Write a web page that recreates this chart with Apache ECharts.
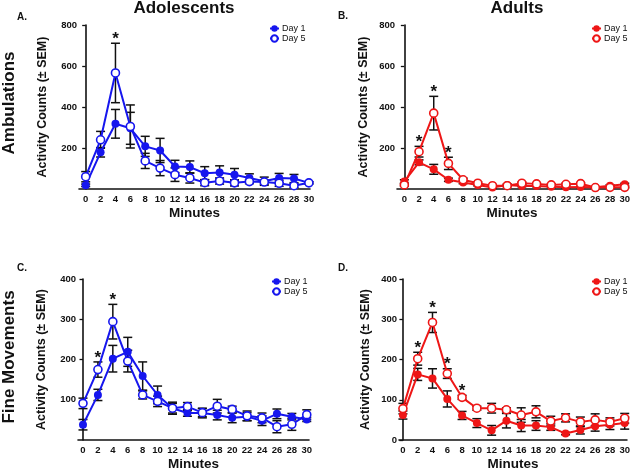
<!DOCTYPE html>
<html><head><meta charset="utf-8">
<script src="https://cdn.jsdelivr.net/npm/echarts@6/dist/echarts.min.js"></script>
<style>html,body{margin:0;padding:0;background:#fff}#c{width:633px;height:472px}</style>
</head><body><div id="c"></div>
<script>
// ---------- data ----------
const minutes = [0,2,4,6,8,10,12,14,16,18,20,22,24,26,28,30];
const xTickLabels = ['0','2','4','6','8','10','12','14','16','18','20','22','24','26','28','30'];
const seriesNames = ['Day 1','Day 5'];
const panelTitles = ['Adolescents','Adults'];
const rowTitles = ['Ambulations','Fine Movements'];
const panelLetters = ['A.','B.','C.','D.'];

// A. Adolescents – Ambulations
const adoAmbDay1 = [18,179,318,296,208,188,110,107,77,80,70,54,38,54,51,30];
const adoAmbDay1Err = [6,23,70,78,49,59,30,30,32,33,30,20,20,22,20,5];
const adoAmbDay5 = [60,240,566,305,137,102,70,54,31,39,30,36,34,28,16,30];
const adoAmbDay5Err = [25,41,145,105,37,37,33,25,15,15,15,10,10,15,10,5];
const adoAmbSig = [4];

// B. Adults – Ambulations
const adAmbDay1 = [37,130,96,45,32,20,7,20,15,15,11,8,10,8,16,23];
const adAmbDay1Err = [8,12,24,8,6,5,4,5,4,4,4,3,3,3,5,5];
const adAmbDay5 = [20,182,370,125,45,28,16,16,28,25,20,23,26,7,8,8];
const adAmbDay5Err = [6,26,82,30,8,6,5,5,5,5,5,5,5,3,3,3];
const adAmbSig = [2,4,6];

// C. Adolescents – Fine Movements
const adoFineDay1 = [38,112,202,219,159,112,79,67,67,62,55,58,48,65,58,51];
const adoFineDay1Err = [13,14,33,36,35,22,15,8,12,12,12,10,12,12,8,5];
const adoFineDay5 = [91,175,294,196,112,96,79,83,68,84,76,60,55,33,39,63];
const adoFineDay5Err = [13,19,43,27,10,13,12,10,10,17,8,12,12,15,15,12];
const adoFineSig = [2,4];

// D. Adults – Fine Movements
const adFineDay1 = [62,163,153,102,61,42,24,48,36,36,32,16,25,34,38,42];
const adFineDay1Err = [10,15,24,20,10,11,12,18,15,12,8,3,10,12,12,15];
const adFineDay5 = [78,202,292,165,106,79,79,75,62,70,47,55,45,50,45,54];
const adFineDay5Err = [13,16,25,12,5,5,12,5,18,15,12,10,12,15,10,12];
const adFineSig = [2,4,6,8];

// ---------- layout / style ----------
const FONT = '"Liberation Sans", Arial, Helvetica, sans-serif';
const BLUE = '#1616ee';
const RED = '#ee1616';

const panels = [
  {id:'A', d1:adoAmbDay1, e1:adoAmbDay1Err, d5:adoAmbDay5, e5:adoAmbDay5Err, sig:adoAmbSig, color:BLUE,
   grid:{left:79, top:25, width:231, height:164}, xmin:-0.9, xmax:30.15, ymax:800, yint:200, showZero:false,
   legend:{left:269, top:24}, nameGap:30},
  {id:'B', d1:adAmbDay1, e1:adAmbDay1Err, d5:adAmbDay5, e5:adAmbDay5Err, sig:adAmbSig, color:RED,
   grid:{left:397, top:25, width:232, height:164}, xmin:-1.0, xmax:30.3, ymax:800, yint:200, showZero:false,
   legend:{left:591, top:24}, nameGap:27},
  {id:'C', d1:adoFineDay1, e1:adoFineDay1Err, d5:adoFineDay5, e5:adoFineDay5Err, sig:adoFineSig, color:BLUE,
   grid:{left:78, top:279, width:231, height:163}, xmin:-0.67, xmax:30.3, ymax:400, yint:100, showZero:false,
   legend:{left:271, top:277}, nameGap:30},
  {id:'D', d1:adFineDay1, e1:adFineDay1Err, d5:adFineDay5, e5:adFineDay5Err, sig:adFineSig, color:RED,
   grid:{left:399, top:279, width:231, height:163}, xmin:-0.53, xmax:30.3, ymax:400, yint:100, showZero:true,
   legend:{left:591, top:277}, nameGap:27}
];

function errRender(params, api){
  const x = api.value(0), lo = api.value(1), hi = api.value(2);
  const p1 = api.coord([x, hi]), p2 = api.coord([x, lo]);
  const w = 4.5;
  const st = {stroke:'#111', lineWidth:1.5};
  return {type:'group', children:[
    {type:'line', shape:{x1:p1[0], y1:p1[1], x2:p2[0], y2:p2[1]}, style:st},
    {type:'line', shape:{x1:p1[0]-w, y1:p1[1], x2:p1[0]+w, y2:p1[1]}, style:st},
    {type:'line', shape:{x1:p2[0]-w, y1:p2[1], x2:p2[0]+w, y2:p2[1]}, style:st}
  ]};
}
function starRender(params, api){
  const p = api.coord([api.value(0), api.value(1)]);
  return {type:'text', x:p[0], y:p[1]-4,
    style:{text:'*', fill:'#111', font:'bold 17px ' + FONT, textAlign:'center', textVerticalAlign:'middle'}};
}

const grids = [], xAxes = [], yAxes = [], series = [], legends = [];
panels.forEach((P, k) => {
  grids.push(Object.assign({containLabel:false}, P.grid));
  xAxes.push({
    type:'value', gridIndex:k, min:P.xmin, max:P.xmax,
    axisLine:{show:true, onZero:false, lineStyle:{color:'#111', width:1.6}},
    axisTick:{show:false},
    splitLine:{show:false},
    axisLabel:{customValues:minutes, formatter:(v)=>xTickLabels[minutes.indexOf(v)] ?? String(v),
      color:'#111', fontFamily:FONT, fontWeight:'bold', fontSize:9.5, margin:5},
    name:'Minutes', nameLocation:'middle', nameGap:17,
    nameTextStyle:{color:'#111', fontFamily:FONT, fontWeight:'bold', fontSize:13.5}
  });
  yAxes.push({
    type:'value', gridIndex:k, min:0, max:P.ymax, interval:P.yint,
    axisLine:{show:true, lineStyle:{color:'#111', width:1.6}},
    axisTick:{show:true, length:3.5, lineStyle:{color:'#111', width:1.3}},
    splitLine:{show:false},
    axisLabel:{showMinLabel:P.showZero, color:'#111', fontFamily:FONT, fontWeight:'bold', fontSize:9.5, margin:2},
    name:'Activity Counts (± SEM)', nameLocation:'middle', nameGap:P.nameGap,
    nameTextStyle:{color:'#111', fontFamily:FONT, fontWeight:'bold', fontSize:12.5}
  });
  const n1 = P.id + '|' + seriesNames[0], n5 = P.id + '|' + seriesNames[1];
  const errData = (d, e) => minutes.map((m, i) => [m, Math.max(0, d[i]-e[i]), d[i]+e[i]]);
  series.push({type:'custom', xAxisIndex:k, yAxisIndex:k, renderItem:errRender, data:errData(P.d1, P.e1),
    encode:{x:0, y:[1,2]}, z:1, silent:true});
  series.push({type:'custom', xAxisIndex:k, yAxisIndex:k, renderItem:errRender, data:errData(P.d5, P.e5),
    encode:{x:0, y:[1,2]}, z:1, silent:true});
  series.push({type:'line', name:n1, xAxisIndex:k, yAxisIndex:k, data:minutes.map((m,i)=>[m, P.d1[i]]),
    symbol:'circle', symbolSize:8, itemStyle:{color:P.color}, lineStyle:{color:P.color, width:2}, z:3});
  series.push({type:'line', name:n5, xAxisIndex:k, yAxisIndex:k, data:minutes.map((m,i)=>[m, P.d5[i]]),
    symbol:'circle', symbolSize:8, itemStyle:{color:'#fff', borderColor:P.color, borderWidth:1.6},
    lineStyle:{color:P.color, width:2}, z:4});
  series.push({type:'custom', xAxisIndex:k, yAxisIndex:k, renderItem:starRender,
    data:P.sig.map(x => { const i = minutes.indexOf(x); return [x, P.d5[i] + P.e5[i]]; }),
    encode:{x:0, y:1}, z:5, silent:true});
  legends.push({data:[n1, n5], orient:'vertical', left:P.legend.left, top:P.legend.top,
    itemWidth:9, itemHeight:8, itemGap:1, padding:0,
    formatter:(name)=>name.split('|')[1],
    textStyle:{color:'#111', fontFamily:FONT, fontSize:9, padding:[0,0,0,-2]}});
});

const graphics = [
  {type:'text', x:184, y:8, style:{text:panelTitles[0], font:'bold 17px ' + FONT, fill:'#111', textAlign:'center', textVerticalAlign:'middle'}},
  {type:'text', x:517, y:8, style:{text:panelTitles[1], font:'bold 17px ' + FONT, fill:'#111', textAlign:'center', textVerticalAlign:'middle'}},
  {type:'text', x:9, y:103, rotation:Math.PI/2, style:{text:rowTitles[0], font:'bold 17px ' + FONT, fill:'#111', textAlign:'center', textVerticalAlign:'middle'}},
  {type:'text', x:9, y:357, rotation:Math.PI/2, style:{text:rowTitles[1], font:'bold 17px ' + FONT, fill:'#111', textAlign:'center', textVerticalAlign:'middle'}},
  {type:'text', x:17, y:17, style:{text:panelLetters[0], font:'bold 10px ' + FONT, fill:'#111', textVerticalAlign:'middle'}},
  {type:'text', x:338, y:16, style:{text:panelLetters[1], font:'bold 10px ' + FONT, fill:'#111', textVerticalAlign:'middle'}},
  {type:'text', x:17, y:268, style:{text:panelLetters[2], font:'bold 10px ' + FONT, fill:'#111', textVerticalAlign:'middle'}},
  {type:'text', x:338, y:268, style:{text:panelLetters[3], font:'bold 10px ' + FONT, fill:'#111', textVerticalAlign:'middle'}}
];

const chart = echarts.init(document.getElementById('c'), null, {renderer:'canvas'});
chart.setOption({
  backgroundColor:'#fff',
  animation:false,
  grid:grids, xAxis:xAxes, yAxis:yAxes, series:series, legend:legends,
  graphic:graphics
});
</script>
</body></html>
